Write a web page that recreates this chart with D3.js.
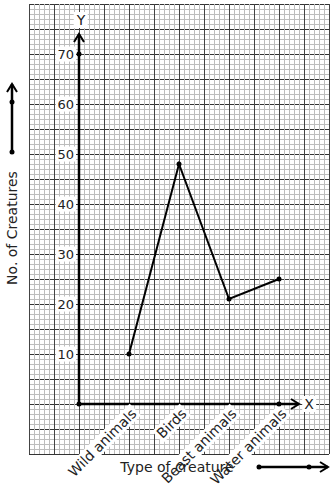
<!DOCTYPE html>
<html>
<head>
<meta charset="utf-8">
<script src="https://cdn.jsdelivr.net/npm/d3@7"></script>
<style>
  body { margin: 0; background: #fff; }
  text { font-family: "DejaVu Sans", sans-serif; font-size: 14px; fill: #222; }
  text.tick { font-size: 13px; }
</style>
</head>
<body>
<svg width="334" height="487"></svg>
<script>
var categories = ["Wild animals", "Birds", "Beast animals", "Water animals"];
var creatures = [10, 48, 21, 25];
var yTicks = [10, 20, 30, 40, 50, 60, 70];

var svg = d3.select("svg");

// x in "category steps": 0 = y axis, 1..4 = categories
var gx = d3.scaleLinear().domain([0, 4]).range([79, 279]);
var y = d3.scaleLinear().domain([0, 70]).range([404, 54]);

var grid = svg.append("g").attr("shape-rendering", "crispEdges");
var x0 = gx(-1), x1 = gx(5), y0 = y(80), y1 = y(-10);

// minor horizontals, then major horizontals
grid.selectAll(".hmin").data(d3.range(-10, 80.5, 1))
  .enter().append("line")
    .attr("x1", x0).attr("x2", x1)
    .attr("y1", function(d) { return y(d) + 0.5; })
    .attr("y2", function(d) { return y(d) + 0.5; })
    .attr("stroke", "#bdbdbd");
grid.selectAll(".hmaj").data(d3.range(-10, 80.5, 5))
  .enter().append("line")
    .attr("x1", x0).attr("x2", x1)
    .attr("y1", function(d) { return y(d) + 0.5; })
    .attr("y2", function(d) { return y(d) + 0.5; })
    .attr("stroke", "#333");
// minor verticals drawn over (breaks the majors into dashes), then majors
grid.selectAll(".vmin").data(d3.range(-10, 50.5, 1))
  .enter().append("line")
    .attr("y1", y0).attr("y2", y1)
    .attr("x1", function(d) { return gx(d / 10) + 0.5; })
    .attr("x2", function(d) { return gx(d / 10) + 0.5; })
    .attr("stroke", "#bdbdbd");
grid.selectAll(".vmaj").data(d3.range(-10, 50.5, 5))
  .enter().append("line")
    .attr("y1", y0).attr("y2", y1)
    .attr("x1", function(d) { return gx(d / 10) + 0.5; })
    .attr("x2", function(d) { return gx(d / 10) + 0.5; })
    .attr("stroke", "#444");

function chevron(g, tx, ty, angle) {
  g.append("path")
    .attr("d", "M-8,-5 L0,0 L-8,5")
    .attr("transform", "translate(" + tx + "," + ty + ") rotate(" + angle + ")")
    .attr("fill", "none").attr("stroke", "#000").attr("stroke-width", 2);
}

function boxed(g, t) {
  var b = t.node().getBBox();
  g.insert("rect", "text")
    .attr("x", b.x - 2).attr("y", b.y).attr("width", b.width + 4).attr("height", b.height)
    .attr("fill", "#fff");
}

var ax = svg.append("g");
// y axis
ax.append("line").attr("x1", gx(0)).attr("x2", gx(0)).attr("y1", y(0)).attr("y2", 34)
  .attr("stroke", "#000").attr("stroke-width", 2.5);
chevron(ax, gx(0), 34, -90);
// x axis
ax.append("line").attr("x1", gx(0)).attr("x2", 299).attr("y1", y(0)).attr("y2", y(0))
  .attr("stroke", "#000").attr("stroke-width", 2.5);
chevron(ax, 299, y(0), 0);

var yl = ax.append("g");
var yt = yl.append("text").attr("x", gx(0) + 2).attr("y", 25).attr("text-anchor", "middle").text("Y");
boxed(yl, yt);
var xl = ax.append("g");
var xt = xl.append("text").attr("x", 309).attr("y", y(0) + 5).attr("text-anchor", "middle").text("X");
boxed(xl, xt);

// y tick labels
yTicks.forEach(function(v) {
  var g = ax.append("g");
  var t = g.append("text").attr("class", "tick").attr("x", 74).attr("y", y(v)).attr("dy", "0.35em")
    .attr("text-anchor", "end").text(v);
  boxed(g, t);
});

// category labels
categories.forEach(function(c, i) {
  var g = ax.append("g")
    .attr("transform", "translate(" + (gx(i + 1) + 5) + "," + (y(0) + 7) + ") rotate(-45)");
  var t = g.append("text").attr("x", 0).attr("y", 0).attr("dy", "0.35em")
    .attr("text-anchor", "end").text(c);
  boxed(g, t);
});

// axis dots
[[gx(0), y(0)], [gx(0), y(70)], [gx(4), y(0)]].forEach(function(p) {
  ax.append("circle").attr("cx", p[0]).attr("cy", p[1]).attr("r", 2.5).attr("fill", "#000");
});

// data line
var line = d3.line()
  .x(function(d, i) { return gx(i + 1); })
  .y(function(d) { return y(d); });
svg.append("path").datum(creatures)
  .attr("d", line).attr("fill", "none").attr("stroke", "#000").attr("stroke-width", 2);
svg.selectAll(".pt").data(creatures).enter().append("circle")
  .attr("cx", function(d, i) { return gx(i + 1); })
  .attr("cy", function(d) { return y(d); })
  .attr("r", 2.5).attr("fill", "#000");

// axis titles
svg.append("text").attr("transform", "translate(17,228) rotate(-90)")
  .attr("text-anchor", "middle").text("No. of Creatures");
svg.append("text").attr("x", 177).attr("y", 472)
  .attr("text-anchor", "middle").text("Type of creature");

// side arrows
var la = svg.append("g");
la.append("line").attr("x1", 12).attr("x2", 12).attr("y1", 152).attr("y2", 84)
  .attr("stroke", "#000").attr("stroke-width", 2.5);
chevron(la, 12, 84, -90);
[102, 152].forEach(function(v) {
  la.append("circle").attr("cx", 12).attr("cy", v).attr("r", 2.5).attr("fill", "#000");
});
la.append("line").attr("x1", 259).attr("x2", 328).attr("y1", 467).attr("y2", 467)
  .attr("stroke", "#000").attr("stroke-width", 2.5);
chevron(la, 328, 467, 0);
[259, 309].forEach(function(v) {
  la.append("circle").attr("cx", v).attr("cy", 467).attr("r", 2.5).attr("fill", "#000");
});
</script>
</body>
</html>
